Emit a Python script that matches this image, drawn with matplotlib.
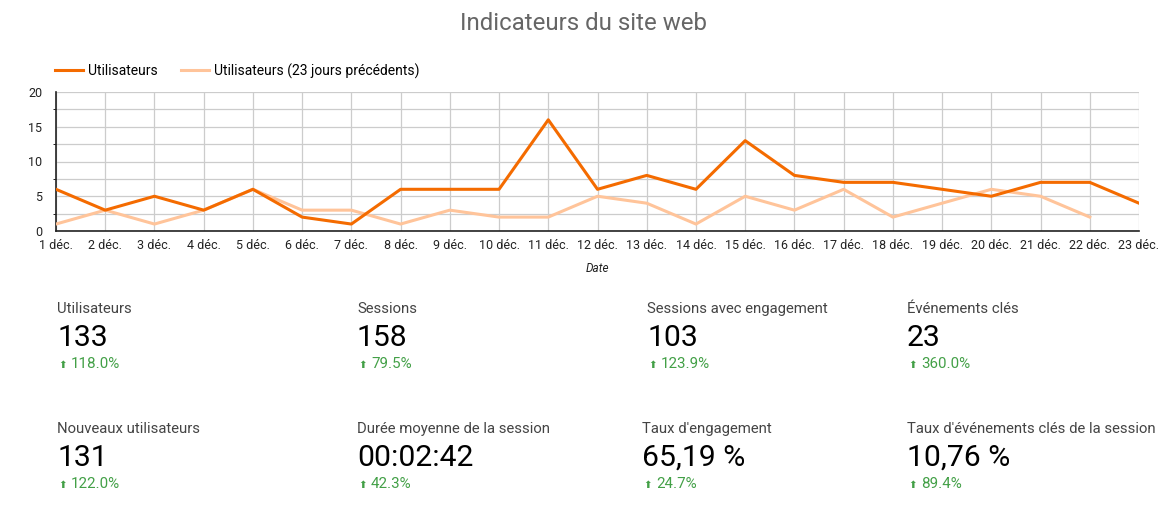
import matplotlib.pyplot as plt
from matplotlib.ticker import MultipleLocator

# Données du graphique
jours = ['%d déc.' % d for d in range(1, 24)]
utilisateurs = [6, 3, 5, 3, 6, 2, 1, 6, 6, 6, 16, 6, 8, 6, 13, 8, 7, 7, 6, 5, 7, 7, 4]
utilisateurs_prec = [1, 3, 1, 3, 6, 3, 3, 1, 3, 2, 2, 5, 4, 1, 5, 3, 6, 2, 4, 6, 5, 2]

# Cartes de scores
kpi_labels = ['Utilisateurs', 'Sessions', 'Sessions avec engagement', 'Événements clés',
              'Nouveaux utilisateurs', 'Durée moyenne de la session', "Taux d'engagement",
              "Taux d'événements clés de la session"]
kpi_values = ['133', '158', '103', '23', '131', '00:02:42', '65,19 %', '10,76 %']
kpi_deltas = ['118.0%', '79.5%', '123.9%', '360.0%', '122.0%', '42.3%', '24.7%', '89.4%']

plt.rcParams['font.family'] = ['Roboto', 'DejaVu Sans']

W, H = 1168, 509
fig = plt.figure(figsize=(W / 100, H / 100), dpi=100)
ax = fig.add_axes([56 / W, 1 - 231 / H, (1139 - 56) / W, (231 - 92) / H])

x = list(range(len(jours)))
ax.plot(x[:len(utilisateurs_prec)], utilisateurs_prec, color='#ffc49a', lw=2.2,
        label='Utilisateurs (23 jours précédents)', zorder=3)
ax.plot(x, utilisateurs, color='#f46b00', lw=2.2, label='Utilisateurs', zorder=4)

ax.set_xlim(0, len(jours) - 1)
ax.set_ylim(0, 20)
ax.set_xticks(x)
ax.set_xticklabels(jours)
ax.yaxis.set_major_locator(MultipleLocator(5))
ax.yaxis.set_minor_locator(MultipleLocator(2.5))
ax.grid(True, which='both', color='#cccccc', lw=0.9)
ax.set_axisbelow(True)
ax.tick_params(length=0, labelsize=9, colors='#222222')
ax.tick_params(axis='x', pad=6)
ax.tick_params(axis='y', pad=10)
for s in ['top', 'right']:
    ax.spines[s].set_visible(False)
for s in ['left', 'bottom']:
    ax.spines[s].set_color('#222222')
    ax.spines[s].set_linewidth(1.2)
ax.set_xlabel('Date', fontsize=8.5, style='italic', color='#222222', labelpad=7)

# Légende (ordre inversé)
h, l = ax.get_legend_handles_labels()
fig.legend(h[::-1], l[::-1], loc='center left', bbox_to_anchor=(55 / W, 1 - 71 / H),
           ncol=2, frameon=False, fontsize=10, handlelength=2.0, columnspacing=1.65,
           handletextpad=0.4, borderpad=0, borderaxespad=0)

fig.text(0.5, 1 - 23 / H, 'Indicateurs du site web', ha='center', va='center',
         fontsize=17.3, color='#666666')

# Cartes
col_x = [57, 357, 647, 907, 57, 357, 642, 907]
row_y = [308, 308, 308, 308, 428, 428, 428, 428]
vert = '#43a047'
for lab, val, dlt, cx, cy in zip(kpi_labels, kpi_values, kpi_deltas, col_x, row_y):
    fig.text(cx / W, 1 - (cy + 1) / H, lab, ha='left', va='center', fontsize=10.7, color='#444444')
    fig.text(cx / W, 1 - (cy + 30) / H, val, ha='left', va='center', fontsize=21.7, color='#000000')
    fig.text((cx + 1) / W, 1 - (cy + 57) / H, '⬆', ha='left', va='center', fontsize=7.5,
             color=vert, family='DejaVu Sans')
    fig.text((cx + 14) / W, 1 - (cy + 56) / H, dlt, ha='left', va='center', fontsize=10.9,
             color=vert)

fig.savefig('out.png', dpi=100)
